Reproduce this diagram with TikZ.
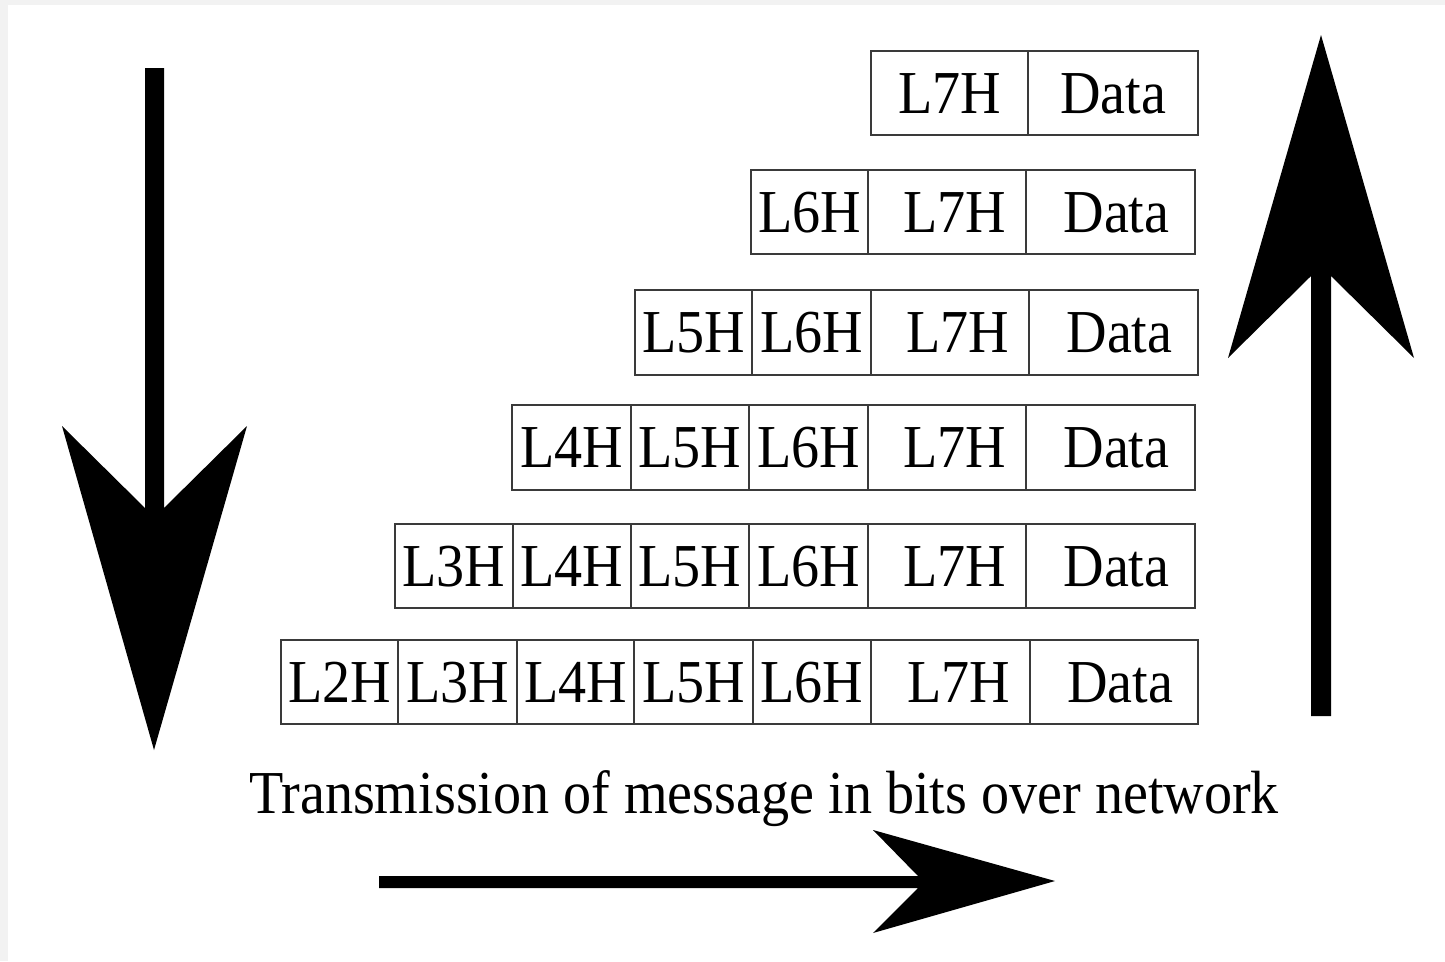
\documentclass[tikz,border=0pt]{standalone}
\usepackage{fontspec}
\setmainfont{Liberation Serif}[FakeStretch=0.92]
\definecolor{pagegray}{HTML}{F2F2F2}
\definecolor{rule}{HTML}{3A3A3A}
\tikzset{
  cellbox/.style={draw=rule, line width=1.6pt, inner sep=0pt,
    text height=40pt, text depth=0pt,
    font=\fontsize{61}{70}\selectfont},
  bigarrow/.style={fill=black, draw=none},
  caption/.style={font=\fontsize{61}{70}\selectfont, inner sep=0pt,
    text height=40pt, text depth=0pt}
}
% one header/data cell: name, left, right, top, bottom, text
\newcommand\pktcell[6]{%
  \node[cellbox, minimum width={#3-#2}, minimum height={#5-#4}]
    (#1) at ({(#2+#3)/2},{(#4+#5)/2}) {#6};}
% labels set a little to the right of the cell centre
\newcommand\rL{\hspace*{16pt}L7H}
\newcommand\rD{\hspace*{12pt}Data}
\begin{document}
\begin{tikzpicture}[x=1pt,y=-1pt]
  \useasboundingbox (0,0) rectangle (1445,961);
  \fill[pagegray] (0,0) rectangle (1445,961);
  \fill[white] (8,5) rectangle (1445,961);

  % row 1
  \pktcell{a7}{871}{1028}{51}{135}{L7H}
  \pktcell{ad}{1028}{1198}{51}{135}{Data}
  % row 2
  \pktcell{b6}{751}{868}{170}{254}{L6H}
  \pktcell{b7}{868}{1026}{170}{254}{\rL}
  \pktcell{bd}{1026}{1195}{170}{254}{\rD}
  % row 3
  \pktcell{c5}{635}{752}{290}{375}{L5H}
  \pktcell{c6}{752}{871}{290}{375}{L6H}
  \pktcell{c7}{871}{1029}{290}{375}{\rL}
  \pktcell{cd}{1029}{1198}{290}{375}{\rD}
  % row 4
  \pktcell{d4}{512}{631}{405}{490}{L4H}
  \pktcell{d5}{631}{749}{405}{490}{L5H}
  \pktcell{d6}{749}{868}{405}{490}{L6H}
  \pktcell{d7}{868}{1026}{405}{490}{\rL}
  \pktcell{dd}{1026}{1195}{405}{490}{\rD}
  % row 5
  \pktcell{e3}{395}{513}{524}{608}{L3H}
  \pktcell{e4}{513}{631}{524}{608}{L4H}
  \pktcell{e5}{631}{749}{524}{608}{L5H}
  \pktcell{e6}{749}{868}{524}{608}{L6H}
  \pktcell{e7}{868}{1026}{524}{608}{\rL}
  \pktcell{ed}{1026}{1195}{524}{608}{\rD}
  % row 6
  \pktcell{f2}{281}{398}{640}{724}{L2H}
  \pktcell{f3}{398}{517}{640}{724}{L3H}
  \pktcell{f4}{517}{634}{640}{724}{L4H}
  \pktcell{f5}{634}{753}{640}{724}{L5H}
  \pktcell{f6}{753}{871}{640}{724}{L6H}
  \pktcell{f7}{871}{1030}{640}{724}{\rL}
  \pktcell{fd}{1030}{1198}{640}{724}{\rD}

  % caption
  \node[caption] (cap) at (764,793) {Transmission of message in bits over network};

  % downward arrow (encapsulation)
  \fill[bigarrow] (145,68) -- (164,68) -- (164,508) -- (247,426) -- (154,750)
    -- (62,426) -- (145,508) -- cycle;
  % upward arrow (decapsulation)
  \fill[bigarrow] (1311,716) -- (1331,716) -- (1331,276) -- (1414,358) -- (1321,35)
    -- (1228,358) -- (1311,276) -- cycle;
  % rightward arrow (transmission)
  \fill[bigarrow] (379,876) -- (918,876) -- (873,830) -- (1055,881) -- (873,933)
    -- (918,888) -- (379,888) -- cycle;
\end{tikzpicture}
\end{document}
